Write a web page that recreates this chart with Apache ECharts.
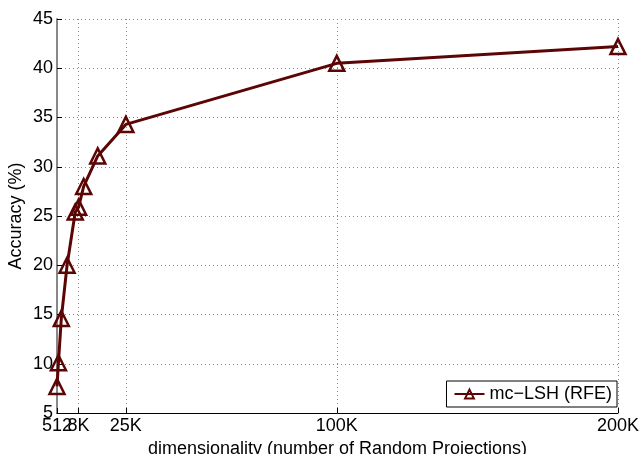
<!DOCTYPE html>
<html>
<head>
<meta charset="utf-8">
<script src="https://cdn.jsdelivr.net/npm/echarts@6/dist/echarts.min.js"></script>
<style>
html,body{margin:0;padding:0;background:#fff;}
#chart{width:641px;height:454px;}
</style>
</head>
<body>
<div id="chart"></div>
<script>
var dims = [512, 1024, 2048, 4096, 7000, 8192, 10000, 15000, 25000, 100000, 200000];
var accuracy = [7.7, 10.1, 14.6, 20.0, 25.4, 25.9, 28.0, 31.1, 34.3, 40.5, 42.2];
var xTickValues = [512, 8192, 25000, 100000, 200000];
var xTickLabels = ['512', '8K', '25K', '100K', '200K'];
var seriesName = 'mc\u2212LSH (RFE)';

var points = dims.map(function (d, i) { return [d, accuracy[i]]; });
var FONT = 'Liberation Sans';
var RED = '#5c0505';
var labelFor = function (v) {
  var i = xTickValues.indexOf(v);
  return i >= 0 ? xTickLabels[i] : '';
};
// main axis shows all labels except the one that ECharts would drop for overlapping the min label
var mainLabelValues = xTickValues.filter(function (v, i) { return i !== 1; });
var extraLabelValues = [xTickValues[1]];

var chart = echarts.init(document.getElementById('chart'), null, {renderer: 'canvas'});
chart.setOption({
  animation: false,
  backgroundColor: '#fff',
  grid: {left: 57, right: 23, top: 19, bottom: 41, containLabel: false, outerBoundsMode: 'none'},
  legend: {
    data: [seriesName],
    right: 24, bottom: 47,
    orient: 'vertical',
    backgroundColor: '#fff',
    borderColor: '#000', borderWidth: 1,
    borderRadius: 0,
    padding: [4, 5, 4, 7],
    itemWidth: 30, itemHeight: 11,
    textStyle: {fontFamily: FONT, fontSize: 18, color: '#000'}
  },
  xAxis: [{
    type: 'value',
    min: 512, max: 200000,
    name: 'dimensionality (number of Random Projections)',
    nameLocation: 'middle',
    nameGap: 25,
    nameTextStyle: {fontFamily: FONT, fontSize: 18, color: '#000'},
    axisLine: {show: true, onZero: false, lineStyle: {color: '#000', width: 1}},
    axisTick: {show: true, inside: true, length: 5, customValues: xTickValues, lineStyle: {color: '#000'}},
    axisLabel: {
      customValues: mainLabelValues,
      margin: 4,
      fontFamily: FONT, fontSize: 18, color: '#000',
      hideOverlap: false,
      showMinLabel: true, showMaxLabel: true,
      formatter: labelFor
    },
    splitLine: {show: true, lineStyle: {color: '#888', type: [1, 3], width: 1}}
  }, {
    type: 'value',
    position: 'bottom',
    min: 512, max: 200000,
    axisLine: {show: false, onZero: false},
    axisTick: {show: false},
    splitLine: {show: false},
    axisLabel: {
      customValues: extraLabelValues,
      margin: 4,
      fontFamily: FONT, fontSize: 18, color: '#000',
      formatter: labelFor
    }
  }],
  yAxis: {
    type: 'value',
    min: 5, max: 45, interval: 5,
    name: 'Accuracy (%)',
    nameLocation: 'middle',
    nameGap: 32,
    nameMoveOverlap: false,
    nameTextStyle: {fontFamily: FONT, fontSize: 18, color: '#000'},
    axisLine: {show: true, onZero: false, lineStyle: {color: '#888', width: 2}},
    axisTick: {show: true, inside: true, length: 5, lineStyle: {color: '#000'}},
    axisLabel: {margin: 4, fontFamily: FONT, fontSize: 18, color: '#000'},
    splitLine: {show: true, lineStyle: {color: '#888', type: [1, 3], width: 1}}
  },
  series: [{
    name: seriesName,
    type: 'line',
    xAxisIndex: 0,
    data: points,
    symbol: 'triangle',
    symbolSize: 15,
    showAllSymbol: true,
    color: RED,
    lineStyle: {color: RED, width: 3},
    itemStyle: {color: 'rgba(255,255,255,0)', borderColor: RED, borderWidth: 2.5}
  }]
});
</script>
</body>
</html>
